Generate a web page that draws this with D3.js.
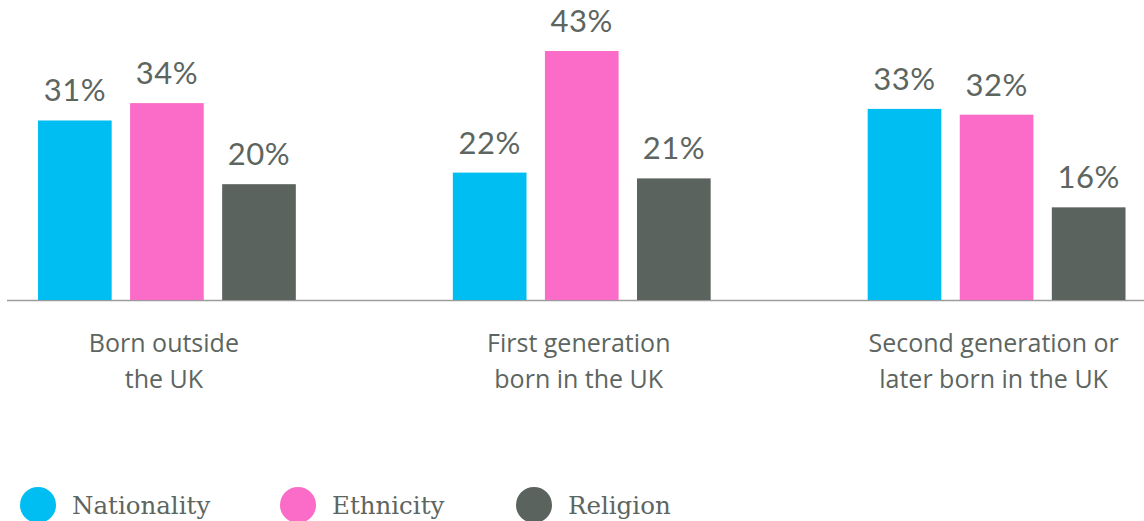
<!DOCTYPE html>
<html>
<head>
<meta charset="utf-8">
<script src="https://cdn.jsdelivr.net/npm/d3@7"></script>
<style>
  html, body { margin: 0; padding: 0; background: #fff; }
  svg { display: block; }
  .value-label { font-family: "Lato", sans-serif; font-size: 31px; fill: #5d6560; letter-spacing: 0.5px; }
  .cat-label { font-family: "Open Sans", sans-serif; font-size: 25px; fill: #5d6560; }
  .legend-label { font-family: "DejaVu Serif", serif; font-size: 24.5px; fill: #5d6560; }
</style>
</head>
<body>
<svg id="chart" width="1144" height="521"></svg>
<script>
const groups = ["Born outside the UK", "First generation born in the UK", "Second generation or later born in the UK"];
const groupLines = [["Born outside", "the UK"], ["First generation", "born in the UK"], ["Second generation or", "later born in the UK"]];
const series = ["Nationality", "Ethnicity", "Religion"];
const colors = ["#00bef2", "#fb6bc8", "#5b635e"];
const values = [
  [31, 34, 20],
  [22, 43, 21],
  [33, 32, 16]
];

const svg = d3.select("#chart");
const width = 1144;
const baseline = 300;

const x0 = d3.scaleBand().domain(groups).range([38, 1125.5]).paddingInner(0.3785).paddingOuter(0);
const x1 = d3.scaleBand().domain(series).range([0, x0.bandwidth()]).paddingInner(0.2).paddingOuter(0);
const y = d3.scaleLinear().domain([0, 43]).range([baseline, 51]);
const color = d3.scaleOrdinal().domain(series).range(colors);

const rows = groups.flatMap((g, gi) => series.map((s, si) => ({ group: g, series: s, value: values[gi][si] })));

svg.append("line")
  .attr("x1", 7).attr("x2", width)
  .attr("y1", baseline + 0.5).attr("y2", baseline + 0.5)
  .attr("stroke", "#9c9c9c").attr("stroke-width", 1.5);

svg.append("g").selectAll("rect")
  .data(rows)
  .join("rect")
  .attr("x", d => x0(d.group) + x1(d.series))
  .attr("y", d => y(d.value))
  .attr("width", x1.bandwidth())
  .attr("height", d => baseline - y(d.value))
  .attr("fill", d => color(d.series));

svg.append("g").selectAll("text")
  .data(rows)
  .join("text")
  .attr("class", "value-label")
  .attr("x", d => x0(d.group) + x1(d.series) + x1.bandwidth() / 2)
  .attr("y", d => y(d.value) - 19)
  .attr("text-anchor", "middle")
  .text(d => d.value + "%");

const cats = svg.append("g").selectAll("text")
  .data(groups)
  .join("text")
  .attr("class", "cat-label")
  .attr("text-anchor", "middle")
  .attr("x", d => x0(d) + x0.bandwidth() / 2 - 3)
  .attr("y", 352);

cats.selectAll("tspan")
  .data((d, i) => groupLines[i])
  .join("tspan")
  .attr("x", function() { return this.parentNode.getAttribute("x"); })
  .attr("dy", (d, i) => i === 0 ? 0 : 36)
  .text(d => d);

// legend
const legendX = [38, 298, 534];
const legend = svg.append("g").selectAll("g")
  .data(series)
  .join("g")
  .attr("transform", (d, i) => `translate(${legendX[i]},505)`);

legend.append("circle")
  .attr("r", 18)
  .attr("fill", d => color(d));

legend.append("text")
  .attr("class", "legend-label")
  .attr("x", 34)
  .attr("y", 9)
  .text(d => d);
</script>
</body>
</html>
